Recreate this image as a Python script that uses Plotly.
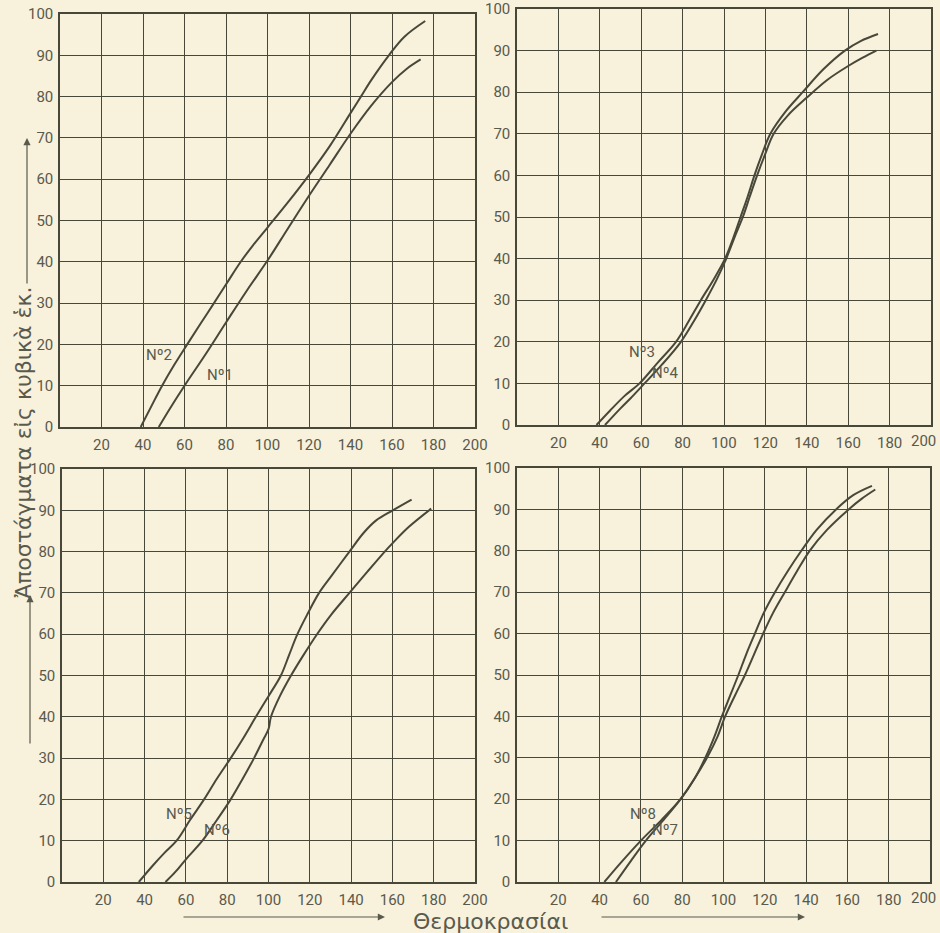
import plotly.graph_objects as go

# ---- data ----
x_tick_vals = [20, 40, 60, 80, 100, 120, 140, 160, 180, 200]
y_tick_vals = [0, 10, 20, 30, 40, 50, 60, 70, 80, 90, 100]

n2_x = [38.9, 44, 49.2, 55, 61.3, 67.7, 74.2, 80.6, 87.1, 93, 100, 110, 120, 130, 140, 145, 150, 158.5, 166, 176]
n2_y = [0, 5, 10, 15, 20, 25, 30, 35, 40, 44, 48.3, 54.5, 61, 68, 76, 80, 84, 90, 94.5, 98.3]
n1_x = [47.6, 53, 60, 70, 80, 90, 100, 110, 120, 130, 140, 150, 160, 167, 173.8]
n1_y = [0, 4.5, 10, 17.5, 25.3, 33, 40.3, 48.2, 56, 63.5, 71, 77.8, 83.5, 86.7, 89]

n3_x = [38.4, 45, 52, 59.2, 68, 76.8, 83, 88.8, 95, 100.5, 104.5, 108, 111.5, 114.7, 118.3, 122.4, 130, 138, 148, 158.4, 166, 174.4]
n3_y = [0, 3.5, 7, 10, 15, 20, 25, 30, 35, 40, 45, 50, 55, 60, 65, 70, 75.5, 80, 85.5, 90, 92.3, 94]
n4_x = [42.5, 50, 55, 61.6, 70, 79.2, 85.5, 91.2, 96.5, 101.1, 105, 109.1, 112.5, 116, 119.8, 124, 131, 140, 150, 160, 167, 173.6]
n4_y = [0, 4, 6.5, 10, 14.5, 20, 25, 30, 35, 40, 45, 50, 55, 60, 65, 70, 74.5, 78.7, 83, 86.3, 88.3, 90]

n5_x = [37.2, 44, 49.5, 55.5, 62, 68.8, 75, 81.7, 88, 93.9, 100, 106, 110, 114, 119, 124.5, 130.3, 139.2, 146, 152, 160.2, 169.3]
n5_y = [0, 4, 7, 10, 15, 20, 25, 30, 35, 40, 45, 50, 55, 60, 65, 70, 74, 80, 84.5, 87.5, 90, 92.6]
n6_x = [50.1, 55, 60, 68, 75, 81.7, 87.5, 93, 97.5, 100, 101.2, 105.5, 110.9, 117, 123.5, 130.3, 139.2, 148, 156.3, 160, 168, 178.8]
n6_y = [0, 2.5, 5.5, 10, 15, 20, 25, 30, 34.5, 37, 40, 45, 50, 55, 60, 64.7, 70, 75.2, 80, 82, 86, 90.4]

n8_x = [42.3, 50, 60, 70, 79.2, 86, 91.2, 95.5, 99.2, 103.2, 107.2, 111, 115.2, 119.5, 124.9, 131, 137.7, 145, 154.5, 163, 171.9]
n8_y = [0, 4.5, 10, 15, 20, 25, 30, 35, 40, 45, 50, 55, 60, 65, 70, 75, 80, 85, 90, 93.5, 95.7]
n7_x = [47.9, 55, 62.4, 71, 79.2, 86, 92, 97, 100.8, 105.5, 110.4, 114.8, 119.2, 124, 129.7, 135.5, 141.7, 150, 160.6, 167, 173.5]
n7_y = [0, 5, 10, 15, 20, 25, 30, 35, 40, 45, 50, 55, 60, 65, 70, 75, 80, 85, 90, 92.6, 94.8]

panels = [
    # (x data, y data, label, label x, label y)
    [(n2_x, n2_y, "Nº2", 47.5, 17.5), (n1_x, n1_y, "Nº1", 77, 12.5)],
    [(n3_x, n3_y, "Nº3", 60.5, 17.5), (n4_x, n4_y, "Nº4", 71.5, 12.5)],
    [(n5_x, n5_y, "Nº5", 56.5, 16.5), (n6_x, n6_y, "Nº6", 75, 12.5)],
    [(n8_x, n8_y, "Nº8", 61, 16.5), (n7_x, n7_y, "Nº7", 71.5, 12.5)],
]

x_title = "Θερμοκρασίαι"
y_title = "Ἀποστάγματα εἰς κυβικὰ ἑκ."

# ---- styling ----
BG = "#f8f1dc"
INK = "#48483a"
TXT = "#5a5a4c"
FONT = "Roboto"

W, H = 940, 933
def px_x(p):
    return p / W
def px_y(p):
    return 1 - p / H

domains = [
    ([px_x(60), px_x(475)], [px_y(427), px_y(14)]),
    ([px_x(517), px_x(931)], [px_y(425), px_y(9)]),
    ([px_x(62), px_x(475)], [px_y(882), px_y(469)]),
    ([px_x(517), px_x(930)], [px_y(882), px_y(468)]),
]
# pixel row just under each right-column panel for its last tick label
edge_label_top = {1: 430, 3: 887}

fig = go.Figure()
layout = dict(
    width=W, height=H,
    paper_bgcolor=BG, plot_bgcolor=BG,
    margin=dict(l=0, r=0, t=0, b=0, autoexpand=False),
    showlegend=False,
    font=dict(family=FONT, color=TXT, size=15),
)

annotations = []
for i, (curves, (dx, dy)) in enumerate(zip(panels, domains)):
    k = "" if i == 0 else str(i + 1)
    xa, ya = "x" + k, "y" + k
    right_col = i in (1, 3)
    for (xs, ys, lab, lx, ly) in curves:
        fig.add_trace(go.Scatter(
            x=xs, y=ys, mode="lines", xaxis=xa, yaxis=ya,
            line=dict(color=INK, width=2, shape="spline", smoothing=1.0),
            hoverinfo="skip"))
        annotations.append(dict(
            x=lx, y=ly, xref=xa, yref=ya, text=lab, showarrow=False,
            font=dict(family=FONT, size=15, color=TXT)))
    # in the right column the last tick label sits at the page edge,
    # so it is written right-aligned against the page edge
    tv = x_tick_vals[:-1] if right_col else x_tick_vals
    if right_col:
        annotations.append(dict(
            x=px_x(938), y=px_y(edge_label_top[i]), xref="paper", yref="paper",
            text=str(x_tick_vals[-1]),
            showarrow=False, xanchor="right", yanchor="top",
            font=dict(family=FONT, size=15, color=TXT)))
    layout["xaxis" + k] = dict(
        domain=dx, anchor=ya, range=[0, 200], tickvals=tv,
        ticktext=[str(v) for v in tv], ticks="",
        showgrid=True, gridcolor=INK, gridwidth=1, zeroline=False,
        showline=True, linecolor=INK, linewidth=1.5, mirror=True,
        tickfont=dict(family=FONT, size=15, color=TXT), ticklabelstandoff=3,
        ticklabeloverflow="allow", automargin=False, fixedrange=True)
    layout["yaxis" + k] = dict(
        domain=dy, anchor=xa, range=[0, 100], tickvals=y_tick_vals,
        ticktext=[str(v) for v in y_tick_vals], ticks="",
        showgrid=True, gridcolor=INK, gridwidth=1, zeroline=False,
        showline=True, linecolor=INK, linewidth=1.5, mirror=True,
        tickfont=dict(family=FONT, size=15, color=TXT), ticklabelstandoff=2,
        ticklabeloverflow="allow", automargin=False, fixedrange=True)

# axis titles
annotations.append(dict(
    x=px_x(490), y=px_y(921), xref="paper", yref="paper", text=x_title,
    xanchor="center", yanchor="middle",
    showarrow=False, font=dict(family="DejaVu Sans", size=22, color=TXT)))
annotations.append(dict(
    x=px_x(23), y=px_y(443), xref="paper", yref="paper", text=y_title,
    xanchor="center", yanchor="middle",
    showarrow=False, textangle=-90,
    font=dict(family="DejaVu Sans", size=22, color=TXT)))

# decorative arrows (tail offsets in pixels)
def arrow(x0, y0, x1, y1):
    annotations.append(dict(
        x=px_x(x1), y=px_y(y1), ax=x0 - x1, ay=y0 - y1,
        xref="paper", yref="paper", axref="pixel", ayref="pixel",
        text="", showarrow=True, arrowhead=2, arrowsize=1.2, arrowwidth=1.2,
        arrowcolor=TXT))

arrow(182, 917, 385, 917)
arrow(600, 917, 805, 917)
arrow(27, 285, 27, 138)
arrow(30, 745, 30, 595)

layout["annotations"] = annotations
fig.update_layout(**layout)
fig.write_html(
    "out.html",
    config={"displayModeBar": False},
    post_script="document.body.style.margin='0';document.body.style.overflow='hidden';",
)
